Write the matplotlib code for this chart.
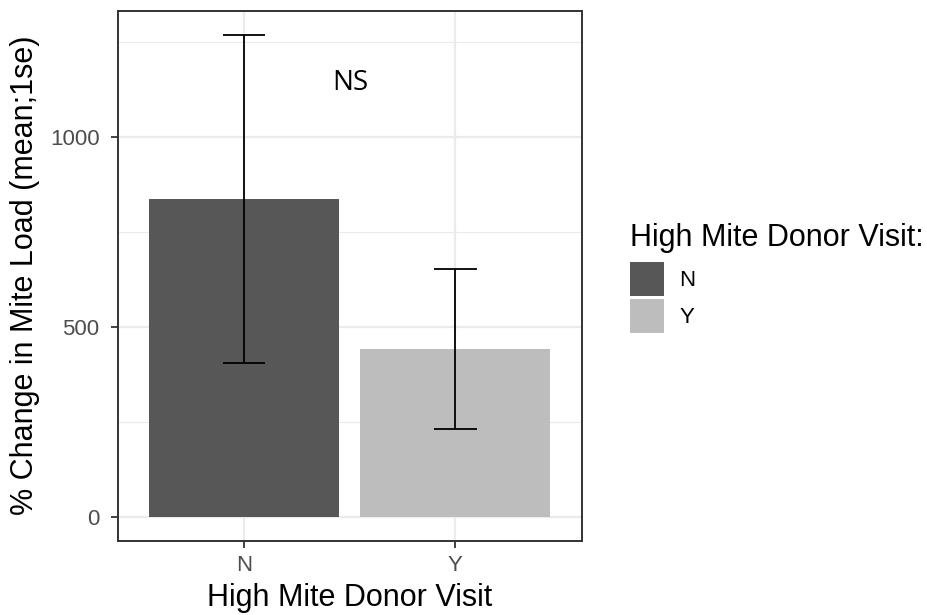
import matplotlib
matplotlib.use("Agg")
import matplotlib.pyplot as plt
from matplotlib.patches import Patch
from matplotlib.ticker import MultipleLocator

# data
groups = ["N", "Y"]
means = [837, 441]
ses = [432, 211]
bar_colors = ["#575757", "#BDBDBD"]

plt.rcParams['font.family'] = ['Liberation Sans', 'DejaVu Sans']

fig = plt.figure(figsize=(9.28, 6.15), dpi=100)
ax = fig.add_axes([0.1268, 0.1208, 0.5004, 0.8618])

x = list(range(1, len(groups) + 1))
ax.bar(x, means, width=0.9, color=bar_colors, zorder=2)

lows = [m - s for m, s in zip(means, ses)]
highs = [m + s for m, s in zip(means, ses)]
ax.vlines(x, lows, highs, color="black", lw=1.3, zorder=3)
ax.hlines(lows, [i - 0.1 for i in x], [i + 0.1 for i in x], color="black", lw=1.3, zorder=3)
ax.hlines(highs, [i - 0.1 for i in x], [i + 0.1 for i in x], color="black", lw=1.3, zorder=3)

# ggplot-like expansion
top = max(highs)
ax.set_ylim(-0.05 * top, 1.05 * top)
ax.set_xlim(0.4, 2.6)

ax.text(1.5, 1142, "NS", fontsize=20, family=["Open Sans", "DejaVu Sans"],
        ha="center", va="center", color="black")

## theme_bw styling
ax.set_axisbelow(True)
ax.yaxis.set_major_locator(MultipleLocator(500))
ax.yaxis.set_minor_locator(MultipleLocator(250))
ax.set_xticks(x)
ax.set_xticklabels(groups)
ax.grid(which="major", color="#EBEBEB", lw=1.6)
ax.grid(which="minor", axis="y", color="#EBEBEB", lw=0.8)
ax.tick_params(axis="both", which="major", length=5, width=1.3, color="#333333",
               labelsize=16, labelcolor="#4D4D4D", pad=8)
ax.tick_params(axis="x", which="major", pad=5)
ax.tick_params(axis="both", which="minor", length=0)
for sp in ax.spines.values():
    sp.set_color("#333333")
    sp.set_linewidth(1.4)

ax.set_xlabel("High Mite Donor Visit", fontsize=22, labelpad=5)
ax.set_ylabel("% Change in Mite Load (mean;1se)", fontsize=22, labelpad=7)

handles = [Patch(facecolor=c, edgecolor="none") for c in bar_colors]
leg = ax.legend(handles, groups, title="High Mite Donor Visit:", loc="upper left",
                bbox_to_anchor=(0.679, 0.637), bbox_transform=fig.transFigure,
                frameon=False, fontsize=16, title_fontsize=22, alignment="left",
                handlelength=1.53, handleheight=1.98, labelspacing=0.13,
                handletextpad=0.68, borderaxespad=0, borderpad=0)
leg._legend_box.sep = 6.5

fig.savefig("out.png", dpi=100)
